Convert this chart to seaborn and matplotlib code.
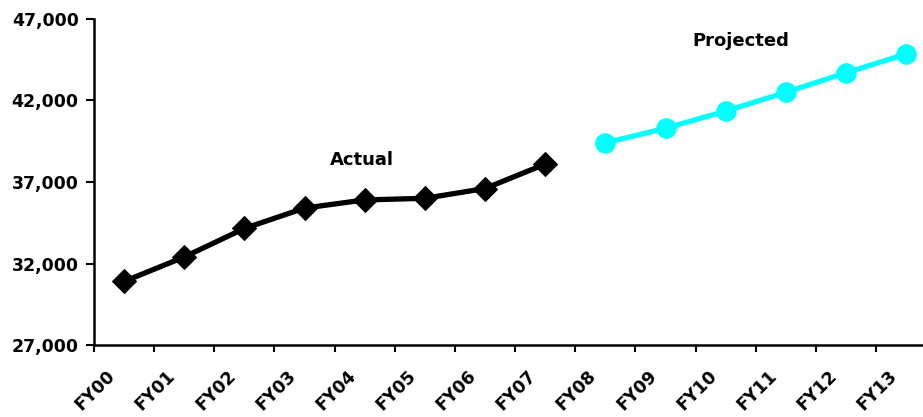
import matplotlib
matplotlib.use("Agg")
import matplotlib.pyplot as plt
from matplotlib.transforms import ScaledTranslation, blended_transform_factory
import seaborn as sns
import pandas as pd
import numpy as np

# Fiscal years and enrollment values
years = ["FY00", "FY01", "FY02", "FY03", "FY04", "FY05", "FY06",
         "FY07", "FY08", "FY09", "FY10", "FY11", "FY12", "FY13"]
actual_years = years[:8]
actual_values = [30900, 32400, 34150, 35400, 35900, 36000, 36600, 38100]
projected_years = years[8:]
projected_values = [39400, 40300, 41350, 42500, 43700, 44850]
y_ticks = [27000, 32000, 37000, 42000, 47000]

sns.set_style("white", {"text.color": "black", "xtick.color": "black",
                        "ytick.color": "black", "axes.edgecolor": "black"})
plt.rcParams["font.family"] = ["DejaVu Sans"]

fig = plt.figure(figsize=(9.23, 4.17), dpi=100)
W, H = 923, 417
left, bottom, top = 94, 345, 19
ax = fig.add_axes([left / W, (H - bottom) / H, (W - left) / W, (bottom - top) / H])

pos = {y: i for i, y in enumerate(years)}
actual = pd.DataFrame({"x": [pos[y] for y in actual_years], "value": actual_values})
projected = pd.DataFrame({"x": [pos[y] for y in projected_years], "value": projected_values})

sns.lineplot(data=actual, x="x", y="value", ax=ax, color="black", lw=3.8,
             marker="D", markersize=12, markeredgecolor="black")
sns.lineplot(data=projected, x="x", y="value", ax=ax, color="#00FFFF", lw=3.8,
             marker="o", markersize=14, markeredgecolor="#00FFFF")

ax.set_ylim(27000, 47000)
ax.set_xlim(-0.5, 13.28)
ax.set_yticks(y_ticks)
ax.set_yticklabels([f"{v:,}" for v in y_ticks], fontsize=12.5, fontweight="bold")

# tick marks on category boundaries, rotated labels under each category
ax.set_xticks(np.arange(-0.5, 13.5, 1.0))
ax.set_xticklabels([])
ax.tick_params(axis="x", bottom=True, length=5, width=1.5,
               direction="out", color="black")
ax.tick_params(axis="y", left=True, length=5.5, width=1.5, direction="out",
               color="black", pad=5.5)

label_tf = blended_transform_factory(ax.transData, ax.transAxes) + \
    ScaledTranslation(-18 / 100, -22 / 100, fig.dpi_scale_trans)
for name in years:
    ax.text(pos[name], 0, name, transform=label_tf, rotation=45,
            rotation_mode="anchor", ha="right", va="top",
            fontsize=12.5, fontweight="bold", clip_on=False)

for side in ["top", "right"]:
    ax.spines[side].set_visible(False)
for side in ["left", "bottom"]:
    ax.spines[side].set_color("black")
    ax.spines[side].set_linewidth(1.8)

ax.set_xlabel("")
ax.set_ylabel("")

ax.text(3.95, 38050, "Actual", fontsize=13, fontweight="bold",
        ha="center", va="baseline")
ax.text(10.25, 45350, "Projected", fontsize=13, fontweight="bold",
        ha="center", va="baseline")

fig.savefig("out.png", dpi=100)
